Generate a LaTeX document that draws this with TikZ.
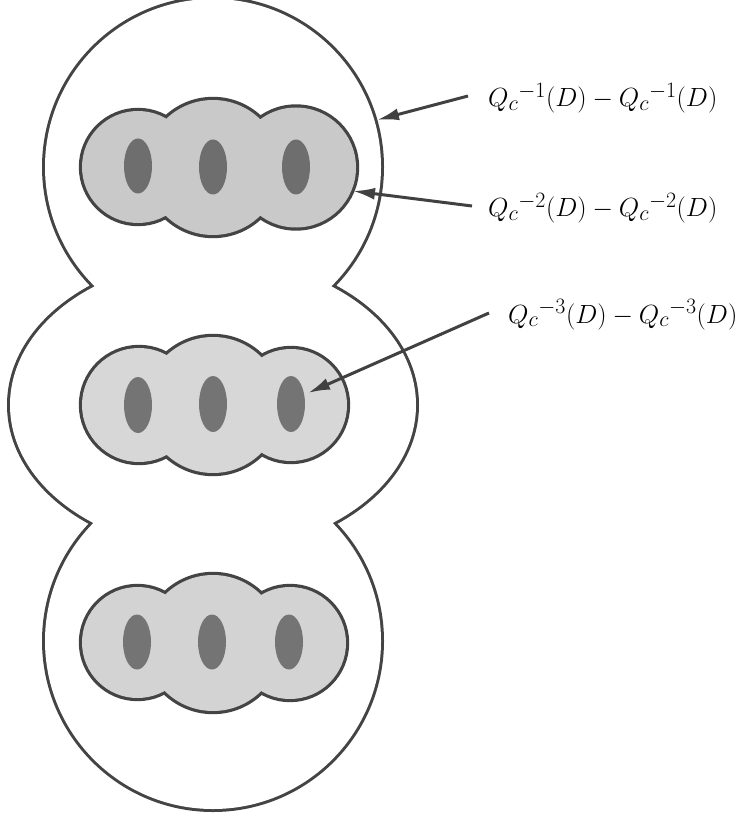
\documentclass[tikz,border=0pt]{standalone}
\usetikzlibrary{arrows.meta}
\definecolor{edge}{HTML}{444444}
\definecolor{gA}{HTML}{C9C9C9}
\definecolor{gB}{HTML}{D7D7D7}
\definecolor{gC}{HTML}{D3D3D3}
\definecolor{hole}{HTML}{6E6E6E}
\definecolor{holeB}{HTML}{747474}
\newcommand{\lbl}[1]{\scalebox{1.057}{\Huge$#1$}}
\begin{document}
\begin{tikzpicture}[x=1pt,y=-1pt,
  outerline/.style={draw=edge,line width=6pt},
  grpline/.style={draw=edge,line width=6.4pt},
  arr/.style={draw=edge!95!black,line width=3pt,-{Latex[length=22pt,width=12pt]}},
  lab/.style={inner sep=0pt,anchor=base west}]
\useasboundingbox (0,0) rectangle (739,818);
% outer region
\path[outerline] (213,167) circle[radius=168pt] (213,641) circle[radius=168pt]
  (213,405) ellipse[x radius=203pt,y radius=146pt];
\fill[white] (213,167) circle[radius=168pt] (213,641) circle[radius=168pt]
  (213,405) ellipse[x radius=203pt,y radius=146pt];
% group 1
\path[grpline] (138,167) circle[radius=56pt] (213,167.5) circle[radius=67.5pt] (296,167.5) circle[radius=60pt];
\fill[gA] (138,167) circle[radius=56pt] (213,167.5) circle[radius=67.5pt] (296,167.5) circle[radius=60pt];
\fill[hole] (138,166) ellipse[x radius=14pt,y radius=27.5pt]
  (213,167) ellipse[x radius=14pt,y radius=27.5pt]
  (296,167) ellipse[x radius=14pt,y radius=27.5pt];
% group 2
\path[grpline] (139,405) circle[radius=57pt] (213,405) circle[radius=68pt] (291,405) circle[radius=56pt];
\fill[gB] (139,405) circle[radius=57pt] (213,405) circle[radius=68pt] (291,405) circle[radius=56pt];
\fill[holeB] (138,405) ellipse[x radius=14pt,y radius=28pt]
  (213,404) ellipse[x radius=14pt,y radius=28pt]
  (291,404) ellipse[x radius=14pt,y radius=28pt];
% group 3
\path[grpline] (137.5,642.5) circle[radius=55.5pt] (213,643) circle[radius=68pt] (290,643) circle[radius=56pt];
\fill[gC] (137.5,642.5) circle[radius=55.5pt] (213,643) circle[radius=68pt] (290,643) circle[radius=56pt];
\fill[holeB] (137,642) ellipse[x radius=14pt,y radius=27.5pt]
  (212,642) ellipse[x radius=14pt,y radius=27.5pt]
  (289,642) ellipse[x radius=14pt,y radius=27.5pt];
% labels
\node[lab] (l1) at (488,107) {\lbl{{Q_c}^{-1}(D) - {Q_c}^{-1}(D)}};
\node[lab] (l2) at (488,217) {\lbl{{Q_c}^{-2}(D) - {Q_c}^{-2}(D)}};
\node[lab] (l3) at (508,323) {\lbl{{Q_c}^{-3}(D) - {Q_c}^{-3}(D)}};
% arrows
\coordinate (s1) at (468,96);
\coordinate (t1) at (377,120);
\coordinate (s2) at (472,206);
\coordinate (t2) at (353,191);
\coordinate (s3) at (489,313);
\coordinate (t3) at (308,393);
\draw[arr] (s1) -- (t1);
\draw[arr] (s2) -- (t2);
\draw[arr] (s3) -- (t3);
\end{tikzpicture}
\end{document}
